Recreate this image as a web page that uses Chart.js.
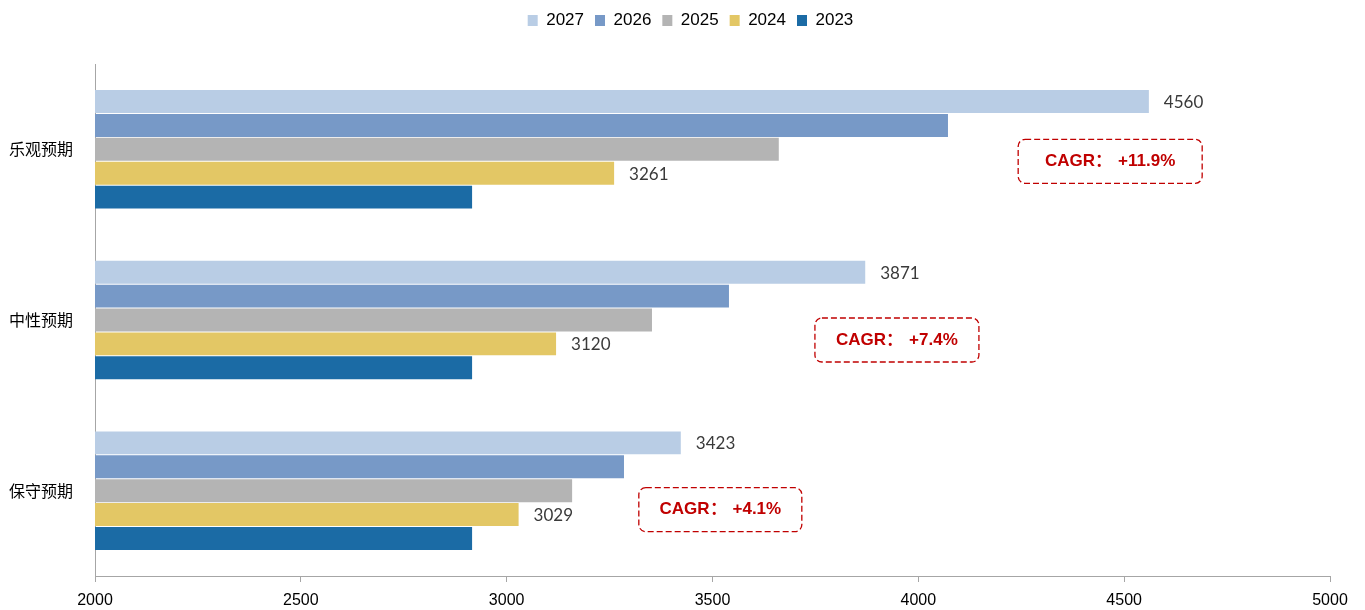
<!DOCTYPE html>
<html lang="zh-CN">
<head>
<meta charset="UTF-8">
<title>预期对比</title>
<script src="https://cdn.jsdelivr.net/npm/chart.js"></script>
<style>
  html, body { margin: 0; padding: 0; background: #fff; }
  #wrap { width: 1365px; height: 610px; position: relative; }
</style>
</head>
<body>
<div id="wrap"><canvas id="grafico"></canvas></div>
<script>
// dados
const cenarios = ['乐观预期', '中性预期', '保守预期'];
const anos = ['2027', '2026', '2025', '2024', '2023'];
const v2027 = [4560, 3871, 3423];
const v2026 = [4072, 3540, 3285];
const v2025 = [3661, 3353, 3159];
const v2024 = [3261, 3120, 3029];
const v2023 = [2916, 2916, 2916];
const cagr = ['+11.9%', '+7.4%', '+4.1%'];
const xMin = 2000, xMax = 5000, xPasso = 500;

// cores e posicao das caixas (fora dos dados)
const cores = ['#B9CDE5', '#7799C7', '#B4B4B4', '#E3C765', '#1B6BA5'];
const caixaX = [4466, 3948, 3519];   // centro da caixa em valor do eixo x
const caixaDy = [12, 20, 19];        // deslocamento vertical em px a partir do centro da categoria
const caixaW = [184, 164, 163];

const series = [v2027, v2026, v2025, v2024, v2023];
const rotulados = [0, 3]; // 2027 e 2024 mostram o valor

const datasets = anos.map(function (ano, i) {
  return {
    label: ano,
    data: series[i],
    backgroundColor: cores[i],
    borderWidth: 0,
    categoryPercentage: 0.70,
    barPercentage: 0.96
  };
});

const legendaAltura = {
  id: 'legendaAltura',
  beforeInit(chart) {
    const fitOriginal = chart.legend.fit;
    chart.legend.fit = function () {
      fitOriginal.bind(chart.legend)();
      this.height = 63;
    };
  },
  afterLayout(chart) {
    // centraliza a legenda na largura toda
    chart.legend.left = 16;
    chart.legend.right = chart.width;
    chart.legend.width = chart.width - chart.legend.left;
  }
};

const rotulosValor = {
  id: 'rotulosValor',
  afterDatasetsDraw(chart) {
    const ctx = chart.ctx;
    ctx.save();
    ctx.font = '17px Lato, "Liberation Sans", sans-serif';
    ctx.fillStyle = '#3A3A3A';
    ctx.textBaseline = 'middle';
    ctx.textAlign = 'left';
    rotulados.forEach(function (d) {
      chart.getDatasetMeta(d).data.forEach(function (bar, j) {
        ctx.fillText(String(series[d][j]), bar.x + 15, bar.y + 1);
      });
    });
    ctx.restore();
  }
};

const caixasCagr = {
  id: 'caixasCagr',
  afterDatasetsDraw(chart) {
    const ctx = chart.ctx;
    const x = chart.scales.x, y = chart.scales.y;
    ctx.save();
    ctx.font = 'bold 17px "Liberation Sans", Arial, sans-serif';
    cagr.forEach(function (txt, i) {
      const a = 'CAGR：', b = txt;
      const wa = ctx.measureText(a).width, wb = ctx.measureText(b).width;
      const gap = 6;
      const wt = wa + gap + wb;
      const cx = x.getPixelForValue(caixaX[i]);
      const cy = y.getPixelForValue(i) + caixaDy[i];
      const w = caixaW[i], h = 44;
      ctx.beginPath();
      ctx.setLineDash([6, 3]);
      ctx.lineWidth = 1.3;
      ctx.strokeStyle = '#C00000';
      ctx.roundRect(cx - w / 2, cy - h / 2, w, h, 7);
      ctx.stroke();
      ctx.setLineDash([]);
      ctx.fillStyle = '#C00000';
      ctx.textBaseline = 'middle';
      ctx.textAlign = 'left';
      ctx.fillText(a, cx - wt / 2, cy);
      ctx.fillText(b, cx - wt / 2 + wa + gap, cy);
    });
    ctx.restore();
  }
};

new Chart(document.getElementById('grafico'), {
  type: 'bar',
  data: { labels: cenarios, datasets: datasets },
  plugins: [legendaAltura, rotulosValor, caixasCagr],
  options: {
    indexAxis: 'y',
    responsive: true,
    maintainAspectRatio: false,
    devicePixelRatio: 1,
    animation: false,
    layout: { padding: { top: 1, right: 35, left: 0, bottom: 0 } },
    plugins: {
      tooltip: { enabled: false },
      legend: {
        position: 'top',
        labels: {
          boxWidth: 10,
          boxHeight: 11,
          padding: 11,
          color: '#000',
          font: { family: '"Liberation Sans", Arial, sans-serif', size: 17 }
        }
      }
    },
    scales: {
      x: {
        type: 'linear',
        min: xMin,
        max: xMax,
        afterFit(scale) { scale.height = 34; },
        ticks: {
          stepSize: xPasso,
          color: '#000',
          padding: 9,
          font: { family: '"Liberation Sans", Arial, sans-serif', size: 16 },
          callback: function (v) { return String(v); }
        },
        grid: { drawOnChartArea: false, drawTicks: true, tickLength: 6, color: '#A6A6A6' },
        border: { display: true, color: '#A6A6A6' }
      },
      y: {
        afterFit(scale) { scale.width = 95; },
        ticks: {
          color: '#000',
          padding: 14,
          font: { family: '"Noto Sans CJK SC", sans-serif', size: 16 }
        },
        grid: { display: false },
        border: { display: true, color: '#A6A6A6' }
      }
    }
  }
});
</script>
</body>
</html>
